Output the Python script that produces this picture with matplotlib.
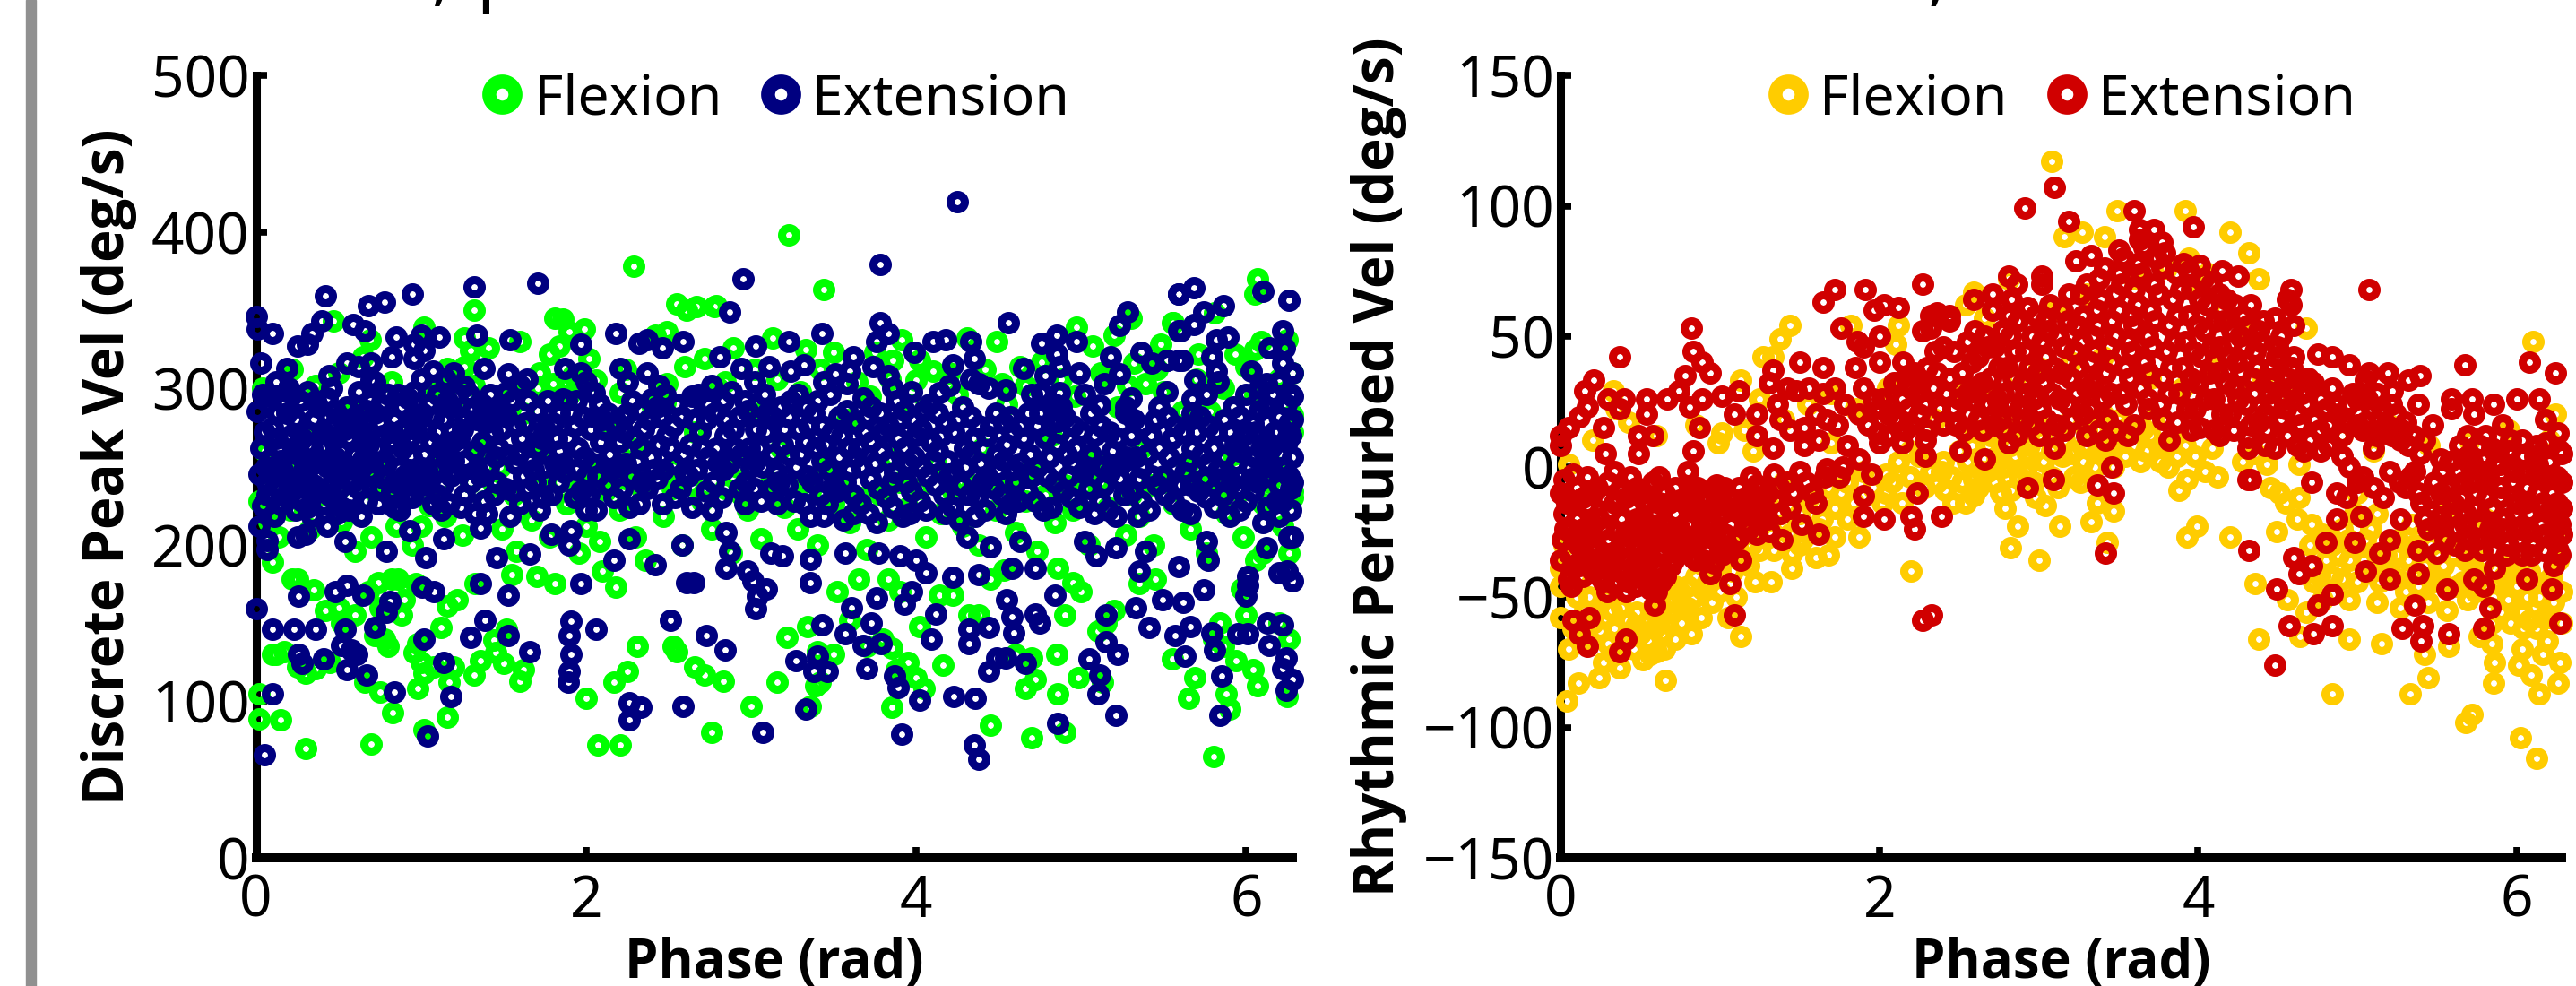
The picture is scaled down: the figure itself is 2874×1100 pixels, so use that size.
import numpy as np
import matplotlib
matplotlib.use("Agg")
import matplotlib.pyplot as plt
from matplotlib.lines import Line2D
from matplotlib.patches import Rectangle

plt.rcParams['font.family'] = ['Noto Sans', 'DejaVu Sans']

# discrete task, (phase, peak vel)
disc_flex = [
    (2.29,378),(1.32,350),(.47,343),(1.81,345),(1.86,344),(1.99,338),(1.90,336),(2.55,354),(2.61,350),(2.67,352),
    (2.78,352),(1.26,332),(1.41,326),(1.30,324),(1.60,330),(.69,331),(1.02,339),(.65,320),(1.78,322),(1.84,327),
    (2.02,319),(2.49,336),(2.42,334),(2.72,319),(1.72,310),(1.80,303),(1.71,300),(1.16,313),(1.26,314),(2.21,297),
    (2.12,235),(2.49,303),(2.48,291),(3.23,398),(3.44,363),(2.79,353),(2.89,326),(3.13,332),(3.33,325),(3.50,323),
    (3.75,323),(3.91,331),(3.86,318),(4.31,332),(4.49,330),(4.10,311),(4.0,305),(4.52,303),(4.63,314),(4.76,317),
    (4.97,339),(5.07,327),(5.20,334),(5.30,345),(5.48,328),(5.55,342),(5.32,316),(5.39,303),(5.14,307),(6.07,370),
    (6.05,360),(5.56,342),(5.81,348),(6.05,325),(6.09,330),(6.25,331),(5.71,322),(5.93,322),(6.28,283),(5.61,285),
    (6.28,234),(.02,105),(.02,89),(.15,88),(.30,70),(.70,73),(1.02,82),(.10,130),(.17,132),(.25,122),(.30,118),
    (.36,121),(.45,125),(.66,112),(.75,106),(.83,93),(.98,108),(1.02,118),(1.16,90),(1.17,112),(1.32,117),
    (1.36,126),(1.50,124),(1.62,120),(1.60,113),(1.45,131),(1.44,139),(1.52,146),(1.20,122),(1.00,125),(.96,131),
    (1.08,122),(.98,137),(.78,140),(.72,142),(.80,135),(1.12,147),(.50,160),(.42,158),(.52,150),(.60,155),
    (.75,160),(.88,155),(.90,165),(.86,178),(.74,176),(.82,178),(.97,175),(.68,170),(.35,171),(.22,178),
    (.10,189),(.12,130),(.25,178),(1.16,161),(1.22,165),(1.33,175),(1.55,181),(1.70,180),(1.81,175),(1.96,195),
    (2.10,183),(2.18,173),(2.31,135),(2.53,135),(2.55,132),(2.72,117),(2.66,122),(2.83,113),(2.00,102),(2.07,72),
    (2.21,72),(2.17,112),(2.25,119),(2.76,80),(3.0,97),(3.16,112),(3.22,141),(3.34,148),(3.40,132),(3.50,130),
    (3.39,110),(3.36,97),(3.42,112),(3.85,96),(3.88,120),(3.95,125),(4.0,115),(4.05,108),(4.16,123),(3.85,134),
    (3.80,140),(3.70,135),(4.02,148),(3.60,152),(3.52,170),(3.65,178),(3.83,178),(3.90,170),(4.14,168),(4.22,168),
    (4.32,155),(4.38,155),(4.45,178),(4.53,184),(4.60,130),(4.70,128),(4.72,114),(4.66,108),(4.45,85),(4.70,77),
    (4.90,80),(4.86,105),(4.85,130),(4.98,115),(5.13,112),(5.10,145),(5.15,150),(4.90,155),(5.20,158),(5.00,170),
    (4.86,185),(4.95,176),(5.35,175),(5.45,178),(5.55,127),(5.69,115),(5.65,102),(5.80,65),(5.88,105),(5.90,95),
    (5.94,126),(5.86,135),(6.04,120),(6.07,110),(6.25,103),(6.26,140),(5.80,140),(5.84,150),(6.00,155),(5.97,172),
    (6.20,150),(6.06,190),(6.10,195),(6.26,195),
    (.02,228),(.08,215),(.14,205),(.21,222),(.33,210),(.40,232),(.52,215),(.60,196),(.70,205),(.85,212),
    (.95,200),(1.05,225),(1.15,218),(1.25,206),(1.38,228),(1.49,210),(1.58,196),(1.67,216),(1.78,205),(1.88,226),
    (2.00,212),(2.08,202),(2.20,222),(2.30,205),(2.36,190),(2.47,218),(2.58,200),(2.70,228),(2.76,210),(2.88,195),
    (2.98,222),(3.06,204),(3.20,224),(3.28,210),(3.40,200),(3.50,226),(3.60,214),(3.70,197),(3.83,216),(3.95,224),
    (4.06,205),(4.15,220),(4.28,212),(4.38,200),(4.48,222),(4.60,208),(4.73,196),(4.84,214),(4.95,222),(5.05,200),
    (5.16,224),(5.27,206),(5.35,218),(5.44,200),(5.56,226),(5.66,210),(5.76,195),(5.88,220),(5.98,205),(6.10,226),
    (6.22,212),(6.28,230),(.05,260),(.18,250),(.30,272),(.45,255),(.60,288),(.75,247),(.95,279),(1.10,253),
    (1.22,295),(1.36,262),(1.48,250),(1.62,284),(1.75,262),(1.90,296),(2.03,248),(2.15,275),(2.28,262),(2.40,290),
    (2.53,250),(2.66,272),(2.80,300),(2.92,250),(3.05,284),(3.18,262),(3.30,298),(3.45,250),(3.58,280),(3.72,295),
    (3.85,255),(3.98,290),(4.12,252),(4.25,296),(4.40,262),(4.55,290),(4.70,248),(4.82,270),(4.96,295),(5.08,254),
    (5.22,288),(5.36,262),(5.50,298),(5.64,250),(5.78,285),(5.92,258),(6.05,296),(6.18,250),(6.28,272),(6.28,310),
]
# more of the green that shows in the gaps of the band
disc_flex_band = [
    (.12,238),(.26,242),(.50,236),(.66,228),(.80,236),(.90,240),(1.00,212),(1.12,238),(1.30,240),(1.44,238),
    (1.56,232),(1.72,238),(1.84,240),(1.95,236),(2.12,240),(2.24,242),(2.34,236),(2.52,236),(2.64,238),(2.84,236),
    (2.94,232),(3.12,240),(3.24,238),(3.36,234),(3.54,238),(3.66,230),(3.78,232),(3.90,240),(4.02,236),(4.22,234),
    (4.34,238),(4.44,240),(4.56,238),(4.66,228),(4.78,232),(4.90,238),(5.02,236),(5.12,240),(5.30,232),(5.42,238),
    (5.50,240),(5.72,238),(5.84,236),(5.96,234),(6.14,240),(.04,300),(.22,312),(.36,302),(.50,310),(.82,304),
    (1.08,300),(1.20,306),(1.32,302),(1.55,300),(1.92,308),(2.06,305),(2.24,312),(2.60,314),(2.84,304),(3.02,312),
    (3.16,306),(3.42,312),(3.64,304),(3.84,306),(4.02,318),(4.20,310),(4.42,312),(4.66,302),(4.88,306),(5.12,310),
    (5.28,302),(5.46,312),(5.70,306),(5.86,300),(6.00,314),(6.20,306),
]
disc_ext = [
    (0,159),(.10,146),(.23,146),(.36,146),(.54,146),(.52,136),(.26,130),(.28,124),(.41,127),(.55,120),
    (.67,117),(.61,130),(.58,133),(.10,105),(.05,66),(.26,167),(.48,170),(.55,174),(.65,168),(.81,164),
    (.79,157),(.72,147),(1.02,140),(1.14,125),(.84,106),(1.18,103),(1.04,78),(1.36,175),(1.53,168),(1.01,173),
    (1.08,170),(1.39,152),(1.30,141),(1.53,142),(1.66,132),(1.91,151),(1.90,142),(2.06,146),(1.91,130),(1.90,119),
    (1.89,112),(1.97,175),(2.26,99),(2.33,96),(2.26,88),(2.59,97),(2.51,152),(2.73,142),(2.84,133),(2.61,176),
    (2.65,176),(3.07,80),(3.33,95),(3.27,126),(3.40,129),(3.38,119),(3.46,119),(3.70,121),(3.57,143),(3.43,149),
    (3.61,160),(3.68,136),(3.79,137),(3.73,150),(3.76,166),(3.93,162),(3.87,116),(3.89,109),(4.02,101),(3.91,79),
    (4.09,140),(4.12,156),(4.23,103),(4.36,102),(4.35,72),(4.38,63),(4.32,146),(4.32,137),(4.44,147),(4.49,128),
    (4.54,128),(4.44,119),(4.66,124),(4.59,144),(4.55,165),(4.58,154),(4.72,156),(4.75,150),(4.86,86),(5.21,91),
    (5.10,105),(5.11,117),(5.05,127),(5.22,130),(5.15,138),(5.15,155),(5.33,160),(5.41,147),(5.57,142),(5.66,148),
    (5.79,144),(5.63,129),(5.81,133),(5.85,116),(5.84,91),(6.14,136),(6.24,128),(6.22,121),(6.28,114),(6.24,107),
    (6.22,149),(6.13,150),(6.01,143),(5.95,143),(5.74,171),(5.62,163),(5.49,165),(4.84,168),(4.38,181),(4.22,179),
    (3.97,170),(4.06,182),(6.28,177),(6.20,182),(6.25,183),(6.01,174),(6.0,167),(6.01,180),
    (.07,203),(.07,197),(.30,207),(.25,205),(.43,212),(.54,202),(.79,196),(1.03,192),(1.14,204),(.93,209),
    (1.36,211),(1.46,192),(1.66,194),(1.79,207),(1.91,209),(1.90,200),(2.17,190),(2.26,204),(2.42,187),(2.58,200),
    (2.85,208),(2.87,196),(2.85,185),(2.98,183),(3.12,195),(3.19,193),(3.01,177),(3.09,172),(3.04,167),(3.03,159),
    (3.36,176),(3.36,191),(3.57,195),(3.77,195),(3.90,193),(4.0,190),(4.31,205),(4.45,199),(4.58,185),(4.72,185),
    (4.63,202),(5.02,202),(5.09,193),(5.21,198),(5.35,183),(5.39,196),(5.59,186),(5.77,190),(5.76,202),(6.12,198),
    (6.26,205),
    (.42,359),(1.32,365),(1.71,367),(.95,360),(.78,355),(.68,353),(0,346),(.01,338),(.10,335),(.40,343),
    (.59,341),(.66,337),(.34,335),(.25,327),(.31,328),(.85,333),(1.0,334),(1.11,333),(1.34,334),(1.54,331),
    (1.97,328),(2.18,335),(2.32,329),(2.37,331),(2.46,326),(2.59,330),(1.87,313),(1.97,310),(2.05,297),(2.21,313),
    (2.25,304),(2.37,310),(2.10,280),(.03,316),(.19,313),(.62,314),(.70,305),(.70,316),(.55,316),(.82,320),
    (.96,328),(1.02,324),(.96,319),(1.07,311),(1.15,306),(1.38,313),(1.53,309),(1.64,306),(1.51,297),(1.26,301),
    (1.41,287),(1.50,284),(1.34,280),(.97,282),(.88,273),(1.86,293),(1.94,292),(2.23,282),(2.40,293),(2.64,295),
    (4.25,419),(3.78,379),(2.95,370),(2.87,349),(3.78,342),(3.83,335),(3.43,335),(3.23,330),(3.03,327),(2.81,320),
    (3.76,330),(3.62,320),(3.99,323),(4.10,330),(4.18,331),(4.33,330),(4.35,319),(4.22,315),(4.56,342),(4.65,313),
    (4.76,329),(4.85,334),(4.97,330),(4.85,322),(4.87,314),(4.99,310),(4.78,308),(5.18,320),(5.23,309),(5.28,349),
    (5.23,340),(5.36,323),(5.43,316),(5.52,318),(5.59,360),(5.59,337),(5.59,318),(2.94,313),(3.32,315),(3.24,311),
    (3.11,314),(3.60,311),(3.51,309),(3.58,303),(3.74,314),(3.83,308),(3.97,298),(4.14,297),(4.33,306),(4.38,303),
    (4.54,299),(4.76,297),(4.87,297),(4.88,288),(4.86,279),(5.11,289),(5.27,288),(5.14,303),(5.52,298),(4.57,282),
    (5.68,364),(5.59,360),(5.74,349),(5.86,353),(5.68,341),(5.60,337),(6.10,362),(6.26,356),(6.22,337),(6.14,326),
    (6.23,326),(6.22,316),(6.28,310),(5.89,333),(5.82,331),(5.79,320),(5.82,311),(5.83,304),(5.69,305),(5.61,318),
    (5.52,318),(5.67,293),(6.03,311),(6.12,303),
    (.01,285),(.03,262),(.02,245),(.04,225),(.02,212),(.08,295),(.10,275),(.09,255),(.12,238),(.11,218),
    (.17,290),(.18,268),(.16,248),(.19,230),(.20,300),(.24,280),(.26,258),(.25,240),(.24,222),(.31,298),
    (.32,272),(.30,252),(.33,235),(.34,218),(.38,288),(.40,262),(.39,244),(.41,226),(.46,300),(.47,276),
    (.48,256),(.46,238),(.49,220),(.55,288),(.56,268),(.54,248),(.57,230),(.62,298),(.63,274),(.65,255),
    (.62,236),(.64,218),(.72,284),(.73,262),(.71,244),(.74,226),(.80,296),(.81,272),(.79,252),(.82,234),
    (.88,288),(.89,262),(.90,244),(.87,222),(.96,298),(.97,274),(.99,250),(.95,230),(1.05,290),(1.06,266),
    (1.04,246),(1.07,226),(1.14,280),(1.15,258),(1.13,238),(1.22,296),(1.23,268),(1.21,246),(1.24,224),(1.31,286),
    (1.32,260),(1.30,240),(1.33,220),(1.42,296),(1.43,272),(1.41,250),(1.44,232),(1.52,282),(1.53,258),(1.51,236),
    (1.54,218),(1.61,268),(1.62,244),(1.60,226),(1.70,286),(1.71,262),(1.69,240),(1.80,278),(1.81,252),(1.79,232),
    (1.88,292),(1.89,268),(1.87,246),(1.98,282),(1.99,256),(1.97,234),(2.08,290),(2.09,266),(2.07,244),(2.06,222),
    (2.18,276),(2.19,250),(2.17,230),(2.28,292),(2.29,268),(2.27,244),(2.26,224),(2.38,280),(2.39,256),(2.37,236),
    (2.48,296),(2.49,270),(2.47,248),(2.46,226),(2.58,282),(2.59,258),(2.57,236),(2.68,296),(2.69,272),(2.67,248),
    (2.78,284),(2.79,262),(2.77,240),(2.76,222),(2.88,298),(2.89,274),(2.87,252),(2.98,286),(2.99,262),(2.97,240),
    (3.08,296),(3.09,272),(3.07,250),(3.06,228),(3.18,288),(3.19,264),(3.17,240),(3.28,296),(3.29,274),(3.27,250),
    (3.26,228),(3.38,284),(3.39,262),(3.37,240),(3.36,218),(3.48,296),(3.49,272),(3.47,248),(3.46,226),(3.58,286),
    (3.59,262),(3.57,240),(3.56,216),(3.68,294),(3.69,272),(3.67,250),(3.66,226),(3.78,284),(3.79,260),(3.77,236),
    (3.76,214),(3.88,292),(3.89,268),(3.87,246),(3.86,224),(3.98,280),(3.99,256),(3.97,234),(4.08,290),(4.09,266),
    (4.07,244),(4.06,222),(4.18,278),(4.19,254),(4.17,232),(4.28,288),(4.29,262),(4.27,238),(4.26,216),(4.38,276),
    (4.39,252),(4.37,230),(4.48,284),(4.49,258),(4.47,236),(4.58,272),(4.59,248),(4.57,226),(4.68,284),(4.69,258),
    (4.67,234),(4.78,268),(4.79,244),(4.77,222),(4.90,282),(4.91,258),(4.89,234),(5.00,272),(5.01,246),(4.99,224),
    (5.12,276),(5.13,250),(5.11,228),(5.22,268),(5.23,242),(5.21,218),(5.32,280),(5.33,256),(5.31,234),(5.42,270),
    (5.43,244),(5.41,222),(5.52,282),(5.53,256),(5.51,232),(5.62,272),(5.63,246),(5.61,222),(5.72,282),(5.73,258),
    (5.71,234),(5.82,272),(5.83,248),(5.81,224),(5.92,288),(5.93,264),(5.91,240),(5.90,218),(6.00,296),(6.01,272),
    (6.02,250),(6.00,228),(6.08,286),(6.09,262),(6.07,240),(6.10,214),(6.16,296),(6.17,272),(6.15,250),(6.18,228),
    (6.24,290),(6.25,266),(6.26,244),(6.27,222),(6.28,280),(6.28,256),(6.28,205),
]
# second pass over the solid part of the navy band
disc_ext_core = [
    (.05,272),(.06,250),(.07,232),(.13,284),(.14,262),(.13,244),(.15,226),(.21,270),(.22,250),(.20,234),
    (.27,292),(.28,268),(.29,248),(.28,228),(.35,280),(.36,256),(.35,238),(.43,294),(.44,270),(.43,250),
    (.44,232),(.51,282),(.52,260),(.50,242),(.52,224),(.59,278),(.60,258),(.59,240),(.67,286),(.68,264),
    (.69,246),(.67,228),(.76,290),(.77,270),(.76,252),(.75,236),(.84,280),(.85,258),(.84,240),(.92,294),
    (.93,268),(.93,248),(.92,232),(1.01,284),(1.02,258),(1.01,238),(1.10,296),(1.10,272),(1.09,248),(1.10,232),
    (1.18,288),(1.19,266),(1.18,244),(1.17,226),(1.27,280),(1.27,254),(1.26,232),(1.37,290),(1.37,266),(1.36,244),
    (1.38,228),(1.47,286),(1.47,262),(1.46,240),(1.57,276),(1.57,252),(1.56,234),(1.65,292),(1.66,254),(1.65,236),
    (1.75,274),(1.75,250),(1.74,230),(1.84,284),(1.84,260),(1.83,240),(1.93,276),(1.94,248),(1.93,230),(2.03,298),
    (2.03,274),(2.04,252),(2.02,232),(2.13,284),(2.14,258),(2.13,238),(2.23,272),(2.24,252),(2.22,236),(2.33,286),
    (2.33,262),(2.34,240),(2.43,288),(2.44,264),(2.43,242),(2.53,276),(2.53,252),(2.54,230),(2.63,288),(2.63,264),
    (2.62,244),(2.73,280),(2.74,256),(2.73,234),(2.83,292),(2.84,270),(2.83,248),(2.82,230),(2.93,282),(2.94,258),
    (2.93,236),(3.03,274),(3.03,254),(3.02,236),(3.13,282),(3.13,258),(3.12,236),(3.23,282),(3.23,258),(3.22,238),
    (3.33,288),(3.33,266),(3.34,244),(3.32,226),(3.43,276),(3.43,254),(3.42,232),(3.53,282),(3.53,256),(3.52,234),
    (3.63,278),(3.63,256),(3.62,232),(3.73,288),(3.73,266),(3.72,242),(3.71,220),(3.83,276),(3.83,254),(3.82,230),
    (3.93,286),(3.93,262),(3.94,240),(3.92,218),(4.03,274),(4.03,250),(4.02,228),(4.13,284),(4.13,260),(4.12,238),
    (4.23,272),(4.23,246),(4.22,224),(4.33,282),(4.33,258),(4.32,232),(4.43,270),(4.43,244),(4.42,222),(4.53,278),
    (4.53,254),(4.52,232),(4.63,276),(4.63,252),(4.62,228),(4.73,276),(4.73,250),(4.72,228),(4.84,290),(4.85,264),
    (4.84,240),(4.95,276),(4.95,252),(4.94,230),(5.06,284),(5.06,258),(5.05,236),(5.17,272),(5.17,246),(5.16,222),
    (5.27,284),(5.27,256),(5.26,232),(5.37,276),(5.37,250),(5.36,228),(5.47,288),(5.47,262),(5.46,238),(5.57,276),
    (5.57,250),(5.56,228),(5.67,284),(5.67,262),(5.66,238),(5.77,276),(5.77,252),(5.76,230),(5.87,280),(5.87,256),
    (5.86,232),(5.96,282),(5.96,260),(5.95,236),(6.04,278),(6.05,256),(6.04,234),(6.12,288),(6.13,266),(6.12,244),
    (6.13,224),(6.20,282),(6.21,258),(6.20,238),(6.20,218),(6.27,296),(6.27,270),(6.27,236),(6.28,240),(6.28,295),
]
# third pass, breaks up what is left of the gaps
disc_ext_fill = [
    (.04,296),(.07,240),(.12,268),(.15,254),(.19,284),(.23,262),(.22,296),(.29,238),(.34,262),(.36,292),
    (.41,272),(.42,254),(.48,286),(.49,246),(.54,274),(.58,250),(.60,282),(.66,268),(.69,292),(.70,254),
    (.75,278),(.78,242),(.83,266),(.86,296),(.91,274),(.94,256),(.97,238),(1.03,274),(1.08,282),(1.12,262),
    (1.16,292),(1.20,254),(1.25,274),(1.29,296),(1.34,248),(1.39,278),(1.45,256),(1.49,274),(1.55,292),(1.59,258),
    (1.63,278),(1.68,248),(1.73,268),(1.77,292),(1.82,268),(1.86,252),(1.91,284),(1.95,262),(2.00,244),(2.05,282),
    (2.11,274),(2.15,248),(2.20,266),(2.25,284),(2.31,254),(2.35,274),(2.41,248),(2.45,282),(2.51,262),(2.55,290),
    (2.60,246),(2.65,280),(2.70,262),(2.74,290),(2.80,252),(2.85,280),(2.90,262),(2.96,292),(3.00,250),(3.05,262),
    (3.10,284),(3.15,246),(3.20,274),(3.24,292),(3.30,258),(3.35,276),(3.40,292),(3.45,264),(3.50,238),(3.55,270),
    (3.60,248),(3.65,262),(3.70,282),(3.75,252),(3.80,272),(3.85,240),(3.90,280),(3.95,252),(4.00,270),(4.05,286),
    (4.10,254),(4.15,270),(4.20,244),(4.25,280),(4.30,250),(4.35,268),(4.40,240),(4.45,276),(4.50,248),(4.55,264),
    (4.60,240),(4.65,268),(4.70,244),(4.75,284),(4.81,256),(4.87,272),(4.92,244),(4.97,262),(5.03,250),(5.08,270),
    (5.14,238),(5.19,260),(5.25,252),(5.30,270),(5.35,242),(5.40,258),(5.45,280),(5.50,244),(5.55,268),(5.60,238),
    (5.65,254),(5.70,272),(5.75,242),(5.80,262),(5.85,242),(5.90,272),(5.94,252),(5.98,270),(6.03,242),(6.06,272),
    (6.11,254),(6.15,262),(6.19,272),(6.23,250),(6.26,278),(.10,230),(.31,224),(.56,222),(.84,224),(1.12,222),
    (1.40,220),(1.72,222),(2.00,222),(2.32,226),(2.64,224),(2.96,226),(3.16,226),(3.44,218),(3.62,220),(3.96,220),
    (4.18,220),(4.36,218),(4.54,220),(4.82,224),(5.08,220),(5.34,218),(5.66,220),(5.96,222),(6.22,228),(.12,304),
    (.44,308),(.72,304),(1.00,306),(1.20,310),(1.60,302),(2.00,304),(2.44,302),(2.76,302),(3.02,304),(3.44,304),
    (3.86,300),(4.20,302),(4.44,300),(4.70,296),(5.02,296),(5.30,294),(5.76,296),(6.08,300),(6.20,304),
]

# rhythmic task, (phase, perturbed vel)
rhyth_flex = [
    (3.08,117),(3.49,98),(3.92,98),(4.20,90),(4.32,82),(4.38,72),(3.16,88),(3.27,90),(3.41,88),(3.94,80),
    (4.06,74),(2.59,67),(2.81,72),(2.54,62),(2.66,57),(2.12,54),(1.82,54),(2.10,47),(1.44,54),(1.38,49),
    (1.27,42),(1.33,42),(6.10,48),(4.68,53),(1.13,33),(.33,29),(.43,17),(1.01,13),(.99,9),(1.21,6),
    (1.70,9),(.05,1),(2.39,-2),(2.73,1),(2.93,5),(3.57,16),(3.67,6),(3.87,4),(4.09,7),(4.36,5),
    (4.43,1),(4.63,1),(5.10,6),(6.24,20),(3.47,0),(3.20,5),(3.37,6),(2.19,6),
    (.04,-90),(.11,-83),(.24,-81),(.66,-82),(.37,-77),(.27,-75),(.60,-71),(1.13,-65),(2.20,-40),(2.82,-31),
    (3.0,-36),(2.87,-23),(3.13,-23),(3.04,-15),(3.33,-21),(3.43,-29),(3.47,-17),(3.37,-14),(3.88,-9),(3.93,-5),
    (3.81,0),(3.99,-23),(3.93,-27),(4.20,-27),(4.49,-25),(4.36,-45),(4.38,-66),(4.56,-51),(4.63,-12),(4.51,-10),
    (4.71,-22),(4.64,-65),(4.95,-66),(5.15,-68),(4.84,-87),(5.33,-87),(5.44,-81),(5.42,-72),(5.57,-69),(5.72,-95),
    (5.68,-98),(6.02,-104),(6.12,-112),(6.14,-87),(6.27,-75),(6.26,-83),(6.09,-80),(5.85,-83),(5.86,-75),(6.01,-76),
    (6.03,-70),(5.84,-68),(5.76,-65),(6.19,-67),(6.16,-72),(5.56,-55),(6.08,-59),(5.94,-51),(6.03,-56),(6.23,-52),
    (5.12,-52),(4.95,-51),(5.27,-54),(4.68,-56),(4.78,-51),(5.44,-52),(5.69,-51),(4.90,-43),(5.25,-43),(4.95,-36),
    (5.54,-38),(4.80,-36),(1.45,-39),(1.32,-44),(1.60,-35),(1.68,-34),(1.87,-27),(1.72,-27),(1.45,-33),(.89,-47),
    (.71,-51),(.67,-60),(.47,-61),(.42,-59),(.32,-55),(.59,-62),(0,-46),(0,-58),(0,-39),(2.54,-14),
    (2.59,-11),(2.79,-16),(2.41,-9),(2.59,-5),(2.83,-9),(2.04,-3),(2.04,-10),(2.19,-4),(2.36,-6),(1.80,-20),
    (1.72,-16),
    (.30,-68),(.34,-72),(.40,-66),(.46,-70),(.50,-64),(.55,-67),(.62,-60),(.25,-63),(.20,-60),(.15,-55),
    (.10,-50),(.05,-42),(.70,-56),(.75,-48),(.80,-54),(.85,-42),(.92,-44),(1.0,-40),(1.10,-50),(1.18,-38),
    (1.25,-32),(1.32,-26),(1.40,-22),(1.50,-18),(1.60,-14),(1.68,-8),(1.80,-6),(1.90,-2),(2.02,-14),(2.12,2),
    (2.25,4),(2.32,-2),(2.45,-4),(2.50,6),(2.55,2),(2.62,-8),(2.68,-2),(2.72,-6),(2.78,0),(2.85,4),
    (2.92,-2),(2.97,-6),(3.03,2),(3.08,-4),(3.15,4),(3.22,-4),(3.28,2),(3.35,0),(3.44,12),(3.52,10),
    (3.60,8),(3.65,14),(3.72,18),(3.78,8),(2.60,14),(2.70,12),(2.80,16),(2.90,14),(3.00,16),(3.10,12),
    (3.20,18),(3.30,14),(3.40,20),(3.50,18),(4.12,-4),(4.28,2),(4.45,-8),(4.55,-14),(4.62,-20),(4.70,-30),
    (4.76,-42),(4.84,-30),(4.90,-24),(4.98,-18),(5.05,-28),(5.10,-40),(5.18,-34),(5.25,-28),(5.32,-36),(5.38,-46),
    (5.46,-30),(5.52,-44),(5.60,-34),(5.66,-44),(5.72,-36),(5.78,-42),(5.85,-50),(5.92,-42),(6.0,-46),(6.08,-40),
    (6.14,-50),(6.22,-42),(6.28,-48),(6.12,-62),(6.2,-58),(5.96,-60),
    (1.15,-26),(1.22,-44),(1.30,-14),(1.40,-6),(1.52,-28),(1.62,-24),(.02,-30),(.08,-62),(.16,-66),(.05,-70),
    (.52,-74),(.58,-54),(.76,-60),(.82,-64),(.65,-70),(.72,-66),(1.05,-58),(.95,-52),(.88,-58),(1.00,-48),
    (2.5,28),(2.65,30),(2.85,34),(3.0,38),(3.2,40),(3.4,42),(3.7,34),(3.9,30),(4.1,38),(4.25,30),(4.4,34),
    (4.6,26),(3.1,60),(3.3,66),(3.6,72),(3.8,76),(4.0,70),(4.15,60),(4.3,52),(1.15,14),(1.25,26),(1.4,18),
    (1.55,24),(1.7,28),(1.85,22),(2.05,30),(2.25,32),(2.35,18),(.2,10),(.35,22),(.6,12),(.85,16),(4.9,12),
    (5.2,16),(5.45,8),(5.7,10),(5.95,14),(6.2,10),
]
# filling in the solid yellow
rhyth_flex_fill = [
    (.12,-42),(.18,-50),(.22,-56),(.28,-50),(.34,-62),(.38,-54),(.44,-64),(.48,-56),(.54,-60),(.56,-72),
    (.60,-52),(.64,-64),(.68,-52),(.72,-46),(.76,-54),(.80,-46),(.84,-50),(.90,-38),(.96,-42),(1.02,-32),
    (1.08,-40),(1.14,-36),(1.20,-30),(1.26,-22),(1.34,-32),(1.38,-18),(1.44,-26),(1.50,-30),(1.56,-12),(1.64,-20),
    (1.76,-10),(1.84,-14),(1.96,-8),(2.08,-6),(2.14,-14),(2.28,-8),(2.46,-14),(2.40,2),(2.52,-6),(2.58,8),
    (2.64,-2),(2.68,8),(2.74,4),(2.76,-10),(2.82,8),(2.88,-4),(2.94,8),(2.98,-12),(3.02,12),(3.08,6),
    (3.12,-8),(3.16,10),(3.22,6),(3.26,-6),(3.30,8),(3.36,14),(3.42,6),(3.46,12),(3.54,4),(3.60,14),
    (3.64,2),(3.70,12),(3.76,2),(3.84,12),(3.92,8),(3.98,4),(4.04,-2),(4.72,-44),(4.78,-26),(4.84,-42),
    (4.88,-34),(4.94,-28),(5.00,-44),(5.04,-36),(5.08,-24),(5.14,-44),(5.20,-40),(5.24,-34),(5.30,-48),(5.36,-30),
    (5.42,-38),(5.48,-44),(5.50,-24),(5.56,-30),(5.62,-46),(5.68,-36),(5.74,-48),(5.80,-36),(5.84,-60),(5.88,-44),
    (5.94,-38),(6.00,-38),(6.06,-50),(6.10,-30),(6.18,-44),(6.26,-36),(6.28,-60),(6.16,-58),(6.04,-62),(5.90,-56),
    (5.00,-10),(5.12,-18),(5.34,-22),(5.58,-16),(5.80,-20),(6.02,-24),(6.24,-24),
]
rhyth_ext = [
    (3.10,107),(2.91,99),(3.19,94),(3.60,98),(3.63,91),(3.72,91),(3.63,87),(3.97,92),(3.50,83),(3.77,86),
    (3.23,79),(3.33,81),(4.01,77),(4.15,75),(4.25,73),(3.94,75),(4.58,68),(5.07,68),(2.27,70),(2.81,73),
    (3.02,73),(3.02,70),(2.86,70),(1.72,68),(1.65,63),(1.91,68),(2.03,62),(2.12,61),(1.97,60),(2.59,64),
    (2.71,66),(2.83,64),(2.71,60),(2.93,61),(2.81,58),(4.33,62),(4.56,64),(4.58,62),(4.48,57),(4.60,54),
    (2.32,58),(2.44,58),(2.36,59),(2.44,56),(2.27,52),(2.32,53),(.82,53),(1.76,53),(1.86,48),(2.0,50),
    (1.90,46),(2.40,46),(.83,44),(.89,40),(.94,36),(.37,42),(.78,35),(.21,33),(.15,29),(.30,26),
    (.40,26),(.17,23),(.37,22),(.54,26),(.67,26),(.74,29),(.89,26),(.81,23),(1.01,27),(1.12,29),
    (1.09,20),(1.23,20),(1.33,37),(1.31,32),(1.50,40),(1.65,38),(1.48,29),(1.38,18),(1.65,28),(1.67,18),
    (1.85,38),(2.0,40),(2.22,36),(2.36,36),(2.09,32),(1.87,20),(2.24,28),(2.0,22),(.12,19),(.05,15),
    (0,12),(.27,15),(.54,20),(.49,12),(.58,12),(.87,15),(1.23,12),(1.53,15),(1.53,8),(.28,5),
    (.49,5),(.83,6),(0,8),(1.33,7),(1.99,13),(2.29,10),(2.14,9),(2.0,9),(2.29,4),(2.66,3),
    (2.51,6),(2.81,9),(3.10,7),(3.42,10),(3.82,10),(3.87,17),(4.01,15),(4.13,12),(3.69,22),(4.31,7),
    (4.48,7),(4.77,6),(1.87,3),(1.77,0),(1.67,-1),(1.95,-3),(5.05,33),(5.19,36),(5.07,36),(4.95,39),
    (4.84,42),(4.75,43),(5.32,33),(5.39,35),(5.22,29),(5.38,24),(5.67,39),(6.08,40),(6.24,36),(5.59,26),
    (5.72,26),(5.85,24),(6.0,26),(6.14,26),(5.59,22),(5.73,20),(5.91,16),(6.18,18),(6.26,13),(5.30,17),
    (5.47,16),(5.15,22),(4.66,6),(4.88,20),(4.6,30),(4.46,32),(4.31,11),(4.38,17),(5.05,17),(5.27,10),
    (5.10,7),(5.39,5),(5.52,3),(6.03,10),(5.69,12),(6.18,9),(5.84,7),(6.28,5),(5.89,1),(6.13,1),
    (0,-10),(.80,-2),(.98,-7),(1.09,-57),(2.27,-59),(2.33,-57),(2.24,-10),(2.20,-19),(2.22,-24),(2.39,-19),
    (2.03,-20),(1.90,-19),(1.90,-11),(2.93,-8),(3.09,-5),(3.37,-7),(3.47,-10),(3.46,0),(3.42,-33),(4.31,-5),
    (4.33,-5),(4.32,-32),(4.71,-6),(4.87,-10),(4.93,-12),(4.87,-20),(5.02,-19),(5.03,-4),(4.80,-29),(4.98,-29),
    (5.20,-28),(5.14,-33),(4.60,-35),(4.71,-38),(4.63,-41),(5.05,-40),(5.20,-43),(5.38,-41),(5.38,-32),(4.49,-47),
    (4.84,-49),(4.75,-53),(5.36,-53),(5.56,-47),(5.73,-43),(5.79,-46),(5.86,-39),(5.83,-54),(6.06,-43),(6.22,-47),
    (6.27,-60),(5.79,-62),(5.57,-64),(5.41,-61),(5.28,-62),(5.40,-67),(4.84,-61),(4.72,-64),(4.57,-61),(4.48,-76),
    (5.50,-33),(5.67,-32),(6.03,-34),(6.23,-38),(5.27,-20),(5.52,-19),(1.60,-14),(1.62,-26),(1.51,-22),(1.39,-28),
    (1.31,-25),(1.06,-45),(.94,-41),(1.13,-36),(1.01,-34),(.17,-69),(.37,-71),(.41,-66),(.12,-64),(.18,-58),
    (.08,-59),(.05,-43),(.07,-46),(.29,-48),(.41,-48),(.59,-53),(.54,-44),(.32,-40),(.25,-35),(0,-36),
    (.02,-5),(.02,-18),(.01,-28),(.04,-14),(.06,-24),(.05,-33),(.10,-8),(.10,-20),(.11,-30),(.12,-38),
    (.17,-4),(.17,-15),(.18,-26),(.16,-36),(.23,-8),(.24,-20),(.22,-30),(.25,-42),(.30,-6),(.31,-17),
    (.30,-28),(.32,-36),(.33,-45),(.38,-9),(.38,-20),(.39,-31),(.37,-40),(.44,-4),(.45,-16),(.44,-27),
    (.46,-38),(.47,-46),(.52,-10),(.52,-22),(.53,-33),(.51,-42),(.58,-6),(.59,-17),(.58,-28),(.60,-38),
    (.60,-48),(.65,-10),(.66,-22),(.64,-32),(.66,-42),(.72,-8),(.72,-18),(.73,-28),(.71,-36),(.79,-12),
    (.80,-22),(.78,-31),(.86,-8),(.86,-18),(.87,-28),(.85,-36),(.92,-12),(.93,-22),(.91,-32),(.99,-8),
    (1.0,-18),(.98,-28),(1.06,-12),(1.07,-22),(1.05,-32),(1.12,-8),(1.13,-18),(1.12,-27),(1.19,-4),(1.20,-14),
    (1.18,-24),(1.26,-8),(1.27,-18),(1.34,-3),(1.35,-13),(1.42,-6),(1.44,-16),(1.50,-2),(1.58,-10),(1.75,-4),
    (2.02,26),(2.10,18),(2.14,26),(2.20,16),(2.25,20),(2.30,14),(2.38,22),(2.42,28),(2.48,16),(2.50,26),
    (2.52,36),(2.56,20),(2.60,30),(2.62,42),(2.65,14),(2.68,24),(2.70,34),(2.72,46),(2.76,18),(2.78,28),
    (2.80,38),(2.82,50),(2.86,12),(2.88,22),(2.90,32),(2.92,44),(2.95,16),(2.97,26),(2.99,36),(3.02,48),
    (3.04,56),(3.05,18),(3.08,28),(3.10,38),(3.12,50),(3.15,60),(3.16,14),(3.18,24),(3.20,34),(3.22,44),
    (3.24,54),(3.26,66),(3.28,20),(3.30,30),(3.32,40),(3.34,50),(3.36,60),(3.38,72),(3.40,26),(3.42,36),
    (3.44,46),(3.46,56),(3.48,66),(3.50,74),(3.52,28),(3.54,38),(3.56,48),(3.58,58),(3.60,68),(3.62,78),
    (3.64,30),(3.66,40),(3.68,50),(3.70,60),(3.72,70),(3.74,80),(3.76,24),(3.78,34),(3.80,44),(3.82,54),
    (3.84,64),(3.86,74),(3.88,28),(3.90,38),(3.92,48),(3.94,58),(3.96,68),(3.98,22),(4.00,32),(4.02,42),
    (4.04,52),(4.06,62),(4.08,70),(4.10,26),(4.12,36),(4.14,46),(4.16,56),(4.18,64),(4.20,20),(4.22,30),
    (4.24,40),(4.26,50),(4.28,58),(4.30,24),(4.34,34),(4.36,44),(4.38,52),(4.42,20),(4.44,28),(4.46,38),
    (4.50,46),(4.52,18),(4.54,26),(4.56,34),(4.60,42),(4.64,16),(4.68,24),(4.72,32),(4.76,14),(4.80,22),
    (4.84,30),(4.90,12),(4.94,24),(5.00,16),(5.06,26),(5.12,12),(5.18,16),(5.24,20),(5.32,8),(5.42,10),
    (5.30,-8),(5.36,-2),(5.40,-14),(5.44,-24),(5.48,-6),(5.52,-10),(5.55,-28),(5.58,2),(5.60,-14),(5.62,-24),
    (5.64,8),(5.66,-6),(5.68,-18),(5.70,-28),(5.72,2),(5.74,-10),(5.76,-22),(5.78,-32),(5.80,12),(5.82,-4),
    (5.84,-16),(5.86,-26),(5.88,6),(5.90,-8),(5.92,-20),(5.94,-30),(5.96,10),(5.98,-2),(6.00,-14),(6.02,-24),
    (6.04,4),(6.06,-8),(6.08,-18),(6.10,-30),(6.12,8),(6.14,-4),(6.16,-14),(6.18,-26),(6.20,2),(6.22,-10),
    (6.24,-20),(6.26,-32),(6.27,6),(6.28,-6),(6.28,-16),(6.28,-26),(5.10,-8),(5.16,-12),(5.20,-2),(5.26,-6),
    (4.95,0),(5.00,-6),(4.90,4),
]
# second pass over the solid red parts
rhyth_ext_core = [
    (.03,-12),(.03,-24),(.08,-3),(.08,-14),(.08,-27),(.08,-38),(.14,-12),(.14,-24),(.14,-33),(.14,-42),
    (.20,-10),(.20,-22),(.20,-32),(.20,-40),(.27,-12),(.27,-24),(.27,-34),(.27,-44),(.34,-2),(.34,-14),
    (.35,-25),(.35,-33),(.36,-44),(.41,-12),(.41,-25),(.42,-36),(.42,-44),(.48,-8),(.48,-20),(.49,-31),
    (.49,-42),(.55,-14),(.55,-26),(.56,-36),(.56,-47),(.62,-4),(.62,-14),(.62,-24),(.62,-34),(.63,-44),
    (.68,-14),(.69,-26),(.69,-38),(.75,-13),(.75,-24),(.75,-33),(.82,-8),(.82,-17),(.83,-27),(.83,-35),
    (.89,-13),(.89,-24),(.90,-36),(.96,-16),(.96,-26),(.96,-37),(1.03,-8),(1.03,-15),(1.03,-26),(1.09,-16),
    (1.10,-28),(1.16,-12),(1.16,-22),(1.23,-7),(1.23,-16),(1.23,-26),(1.30,-10),(1.30,-20),(1.37,-8),(1.38,-18),
    (1.46,-10),(1.54,-6),(1.66,-4),(2.06,20),(2.12,32),(2.16,14),(2.24,34),(2.28,24),(2.34,30),(2.40,16),
    (2.44,34),(2.46,22),(2.53,14),(2.55,28),(2.58,40),(2.62,18),(2.64,32),(2.66,24),(2.68,46),(2.72,16),
    (2.74,26),(2.75,38),(2.77,52),(2.79,14),(2.83,24),(2.84,34),(2.85,44),(2.87,56),(2.90,18),(2.92,28),
    (2.94,38),(2.96,50),(2.98,58),(3.00,12),(3.01,22),(3.03,32),(3.04,42),(3.06,52),(3.07,62),(3.11,16),
    (3.13,26),(3.14,36),(3.16,46),(3.18,56),(3.19,66),(3.21,18),(3.23,28),(3.25,38),(3.27,48),(3.28,58),
    (3.30,70),(3.32,22),(3.34,32),(3.35,44),(3.37,54),(3.39,64),(3.41,76),(3.43,18),(3.45,28),(3.46,40),
    (3.48,50),(3.50,60),(3.52,70),(3.53,80),(3.55,24),(3.57,34),(3.58,44),(3.60,54),(3.62,62),(3.64,74),
    (3.66,84),(3.68,26),(3.69,36),(3.71,46),(3.73,56),(3.75,66),(3.77,76),(3.79,82),(3.81,28),(3.83,38),
    (3.85,48),(3.87,58),(3.89,68),(3.91,78),(3.93,22),(3.95,34),(3.97,44),(3.99,54),(4.01,64),(4.03,72),
    (4.05,26),(4.07,36),(4.09,46),(4.11,56),(4.13,66),(4.15,20),(4.17,32),(4.19,42),(4.21,52),(4.23,62),
    (4.25,26),(4.27,36),(4.29,46),(4.31,54),(4.33,16),(4.35,28),(4.37,38),(4.39,48),(4.41,56),(4.43,14),
    (4.45,24),(4.47,34),(4.49,42),(4.52,50),(4.55,22),(4.57,30),(4.59,38),(4.62,20),(4.65,28),(4.69,34),
    (4.73,18),(4.77,26),(4.82,16),(4.86,24),(4.92,18),(4.97,28),(5.03,14),(5.09,22),(5.15,14),(5.21,24),
    (5.28,14),(5.35,12),(5.33,-4),(5.38,-10),(5.42,-20),(5.46,-12),(5.50,-22),(5.53,-2),(5.56,-8),(5.59,-18),
    (5.61,-30),(5.63,-2),(5.65,-12),(5.67,-22),(5.69,4),(5.71,-6),(5.73,-16),(5.75,-28),(5.77,8),(5.79,-2),
    (5.81,-12),(5.83,-24),(5.85,-32),(5.87,2),(5.89,-12),(5.91,-24),(5.93,-34),(5.95,6),(5.97,-6),(5.99,-18),
    (6.01,-28),(6.03,-2),(6.05,-14),(6.07,-24),(6.09,-34),(6.11,4),(6.13,-10),(6.15,-22),(6.17,-32),(6.19,-4),
    (6.21,-16),(6.23,-28),(6.25,-4),(6.25,-14),(6.27,-22),(6.27,-34),
    # the red shoulder between the left blob and the hump
    (1.36,24),(1.42,30),(1.44,14),(1.56,30),(1.60,20),(1.62,10),(1.72,30),(1.74,16),(1.78,24),(1.80,8),
    (1.90,30),(1.93,16),(1.96,26),(2.05,12),(2.15,40),(2.18,22),(2.20,30),(2.30,38),(2.35,44),(2.47,44),
    (2.55,48),(2.60,52),(2.66,50),(3.30,12),(3.38,14),(3.48,14),(3.56,12),(3.60,16),(3.78,18),(3.96,14),
    (4.10,14),(4.22,14),(4.42,8),(4.56,12),(4.62,8),(4.70,10),(4.82,8),(5.00,26),(5.12,28),(5.22,12),
]

series = [
    ("Discrete Peak Vel (deg/s)", disc_flex + disc_flex_band, disc_ext + disc_ext_core + disc_ext_fill, "#00FF00", "#000080",
     (0, 500), [0, 100, 200, 300, 400, 500], (285.5, 1442), .495, 153),
    ("Rhythmic Perturbed Vel (deg/s)", rhyth_flex + rhyth_flex_fill, rhyth_ext + rhyth_ext_core, "#FFCC00", "#D00000",
     (-150, 150), [-150, -100, -50, 0, 50, 100, 150], (1741, 2858), .494, 1570),
]
xtick_vals = [0, 2, 4, 6]

W, H = 2874.0, 1100.0
fig = plt.figure(figsize=(W / 100, H / 100), dpi=100)

# grey bar at the far left and the clipped caption of the page above
fig.add_artist(Rectangle((29 / W, 0), 11 / W, 1, color="#909090", transform=fig.transFigure))
fig.text(503 / W, 1 + 3 / H, "motions,", ha="right", va="baseline", fontsize=58)
fig.text(532 / W, 1 + 3 / H, "perturbed at random times across the task,", ha="left", va="baseline", fontsize=58)

for ylab, flex, ext, c1, c2, ylim, yticks, xpx, leg_x, ylab_x in series:
    ax_w = xpx[1] - xpx[0]
    ax = fig.add_axes([xpx[0] / W, 1 - 957 / H, ax_w / W, (957 - 84) / H])
    flex = np.array(flex)
    ext = np.array(ext)
    ax.plot(flex[:, 0], flex[:, 1], "o", ms=11.5, mfc="none", mec=c1, mew=6.5, clip_on=False, zorder=3)
    ax.plot(ext[:, 0], ext[:, 1], "o", ms=11.5, mfc="none", mec=c2, mew=6.5, clip_on=False, zorder=3.1)
    ax.set_xlim(0, 6.28)
    ax.set_ylim(*ylim)
    ax.set_xticks(xtick_vals)
    ax.set_yticks(yticks)
    ax.set_yticklabels([str(t).replace("-", "\u2212") for t in yticks])
    ax.tick_params(direction="in", length=8.6, width=5.5, labelsize=46, pad=5)
    ax.tick_params(axis="x", pad=12)
    for s in ["top", "right"]:
        ax.spines[s].set_visible(False)
    ax.spines["left"].set_linewidth(6.5)
    ax.spines["bottom"].set_linewidth(7.2)
    ax.set_xlabel("Phase (rad)", fontsize=43, fontweight="bold", family="Open Sans", labelpad=5)
    ax.set_ylabel(ylab, fontsize=44.5, fontweight="bold", family="Open Sans")
    ax.yaxis.set_label_coords((ylab_x - xpx[0]) / ax_w, .5)

    handles = [Line2D([], [], ls="none", marker="o", ms=21, mfc="none", mec=c, mew=11.2) for c in (c1, c2)]
    ax.legend(handles, ["Flexion", "Extension"], ncol=2, loc="center", bbox_to_anchor=(leg_x, .969), frameon=False,
              fontsize=45, handletextpad=-.03, columnspacing=.45, handlelength=1.2, borderpad=0, borderaxespad=0)

fig.savefig("out.png", dpi=100)
